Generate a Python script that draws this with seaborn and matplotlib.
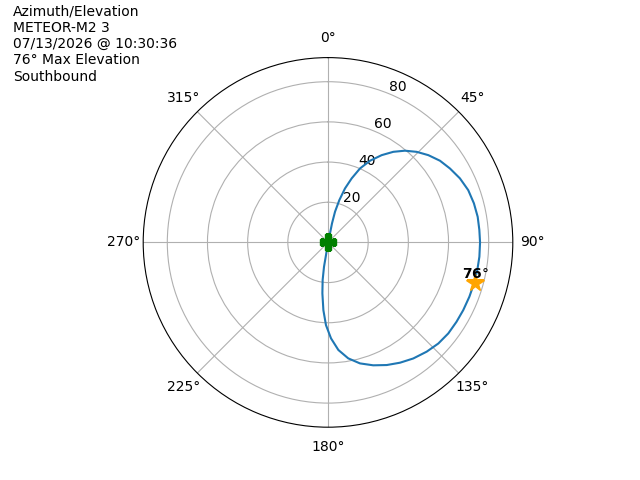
import numpy as np
import pandas as pd
import matplotlib
matplotlib.use("Agg")
import matplotlib.pyplot as plt
import seaborn as sns

# pass track: azimuth (deg) and elevation (deg, used as radius)
track_az = [12, 13.2, 11.9, 12.9, 15.0, 17.5, 20.3, 23.4, 27.2, 31.6, 35.8, 40.0,
            44.4, 49.0, 53.9, 58.8, 64.1, 69.55, 75.0, 80.3, 85.3, 90.0, 95.4,
            100.5, 105.7, 111.0, 116.6, 121.7, 127.1, 132.5, 137.9, 143.7, 149.1,
            154.4, 159.8, 165.2, 170.1, 174.5, 178.2, 181.4, 183.9, 186.3, 188.1,
            189.3, 189.0, 189.0]
track_el = [0, 2.9, 9.7, 15.7, 21.8, 28.2, 34.0, 40.1, 45.7, 51.0, 55.6, 59.6,
            63.1, 66.2, 69.0, 71.0, 73.0, 74.5, 75.2, 75.6, 75.6, 75.7, 75.7,
            75.6, 75.5, 75.4, 75.3, 75.2, 75.1, 74.5, 73.3, 71.7, 69.8,
            67.7, 65.2, 62.3, 58.6, 53.8, 47.8, 41.2, 33.8, 25.5, 18.9,
            12.3, 6.4, 0]

max_el = 76
max_az = 105.3

header = ["Azimuth/Elevation", "METEOR-M2 3", "07/13/2026 @ 10:30:36",
          "76° Max Elevation", "Southbound"]

df = pd.DataFrame({"az": np.radians(track_az), "el": track_el})

fig = plt.figure(figsize=(6.4, 4.8), dpi=100)
ax = fig.add_subplot(111, projection="polar")
ax.set_theta_zero_location("N")
ax.set_theta_direction(-1)

sns.lineplot(data=df, x="az", y="el", sort=False, estimator=None, ax=ax, color="C0")
ax.plot(df["az"].iloc[0], df["el"].iloc[0], marker="P", color="green",
        markersize=12, linestyle="")
ax.plot(np.radians(max_az), max_el, marker="*", color="orange",
        markersize=13, linestyle="")
ax.annotate(r"$\mathbf{%d}$°" % max_el, (np.radians(max_az), max_el), xytext=(0, 1.5),
            textcoords="offset points", ha="center", va="bottom", fontsize=10)

ax.set_ylim(0, 92)
ax.set_xlabel("")
ax.set_ylabel("")

fig.text(0.02, 0.99, "\n".join(header), ha="left", va="top", fontsize=10)

fig.savefig("out.png", dpi=100)
plt.close(fig)
